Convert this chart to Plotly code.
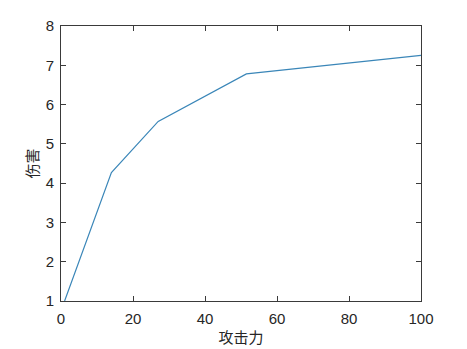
import plotly.graph_objects as go

attack = [1, 14, 27, 51.5, 100]
damage = [1, 4.27, 5.57, 6.78, 7.25]
x_ticks = [0, 20, 40, 60, 80, 100]
y_ticks = [1, 2, 3, 4, 5, 6, 7, 8]

fig = go.Figure()
fig.add_trace(go.Scatter(x=attack, y=damage, mode="lines",
                         line=dict(color="#3a86b8", width=1.2), showlegend=False))

axis_common = dict(showgrid=False, zeroline=False, showline=True, linecolor="#3a3a3a",
                   linewidth=1, mirror="ticks", ticks="inside", ticklen=5, tickcolor="#3a3a3a",
                   automargin=False,
                   tickfont=dict(family="Liberation Sans, Arial", size=15, color="#262626"))

fig.update_xaxes(range=[0, 100], tickvals=x_ticks, ticklabelstandoff=4, **axis_common,
                 title=dict(text="攻击力", font=dict(family="Noto Sans CJK SC", size=15, color="#262626"),
                            standoff=6))
fig.update_yaxes(range=[1, 8], tickvals=y_ticks, ticklabelstandoff=3, **axis_common,
                 title=dict(text="伤害", font=dict(family="Noto Sans CJK SC", size=15, color="#262626"),
                            standoff=3))

fig.update_layout(width=467, height=349, margin=dict(l=61, r=46, t=26, b=48),
                  paper_bgcolor="white", plot_bgcolor="white")

fig.write_html("out.html")
